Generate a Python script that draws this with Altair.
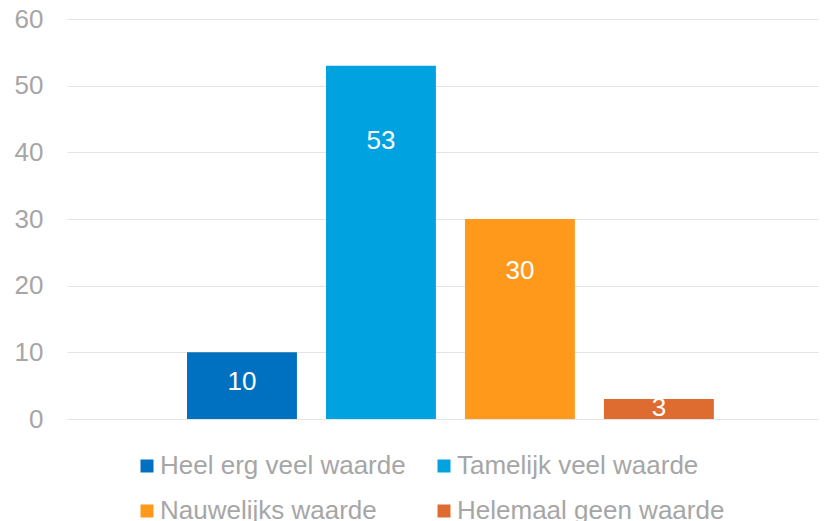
import altair as alt
import pandas as pd

categories = ["Heel erg veel waarde", "Tamelijk veel waarde", "Nauwelijks waarde", "Helemaal geen waarde"]
values = [10, 53, 30, 3]
colors = ["#0070C0", "#00A2E0", "#FF991C", "#DE6C30"]
y_ticks = [0, 10, 20, 30, 40, 50, 60]

df = pd.DataFrame({"cat": categories, "v": values})

FONT = "Liberation Sans"
GRAY = "#A6A6A6"

x_enc = alt.X("cat:N", sort=categories, axis=None,
              scale=alt.Scale(paddingInner=0.209, paddingOuter=0.81, align=0.533))

base = alt.Chart(df)

bars = base.mark_bar().encode(
    x=x_enc,
    y=alt.Y("v:Q", scale=alt.Scale(domain=[0, 60], nice=False),
            axis=alt.Axis(values=y_ticks, title=None, ticks=False, domain=False,
                          labelFontSize=26, labelColor=GRAY, labelFont=FONT,
                          labelPadding=24, gridColor="#E4E4E4", gridWidth=1.2)),
    color=alt.Color("cat:N", sort=categories,
                    scale=alt.Scale(domain=categories, range=colors),
                    legend=alt.Legend(title=None, orient="none", legendX=67, legendY=434,
                                      direction="horizontal",
                                      columns=2, columnPadding=25, rowPadding=19,
                                      symbolType="square", symbolSize=169, symbolStrokeWidth=0,
                                      labelOffset=0, labelFontSize=26, labelColor=GRAY,
                                      labelFont=FONT, padding=0, labelLimit=400)),
)

labels = base.transform_calculate(
    lp="max(datum.v * 0.85 - 3.3, datum.v * 0.55)"
).mark_text(color="white", fontSize=26, font=FONT, baseline="middle", align="center").encode(
    x=x_enc,
    y=alt.Y("lp:Q"),
    text=alt.Text("v:Q"),
)

chart = alt.layer(bars, labels).properties(
    width=752, height=400,
    autosize=alt.AutoSizeParams(type="none"),
    padding={"left": 59, "top": 11, "right": 0, "bottom": 102},
).configure(font=FONT).configure_view(stroke=None)

chart.save("out.html", embed_options={"renderer": "svg", "actions": False})
